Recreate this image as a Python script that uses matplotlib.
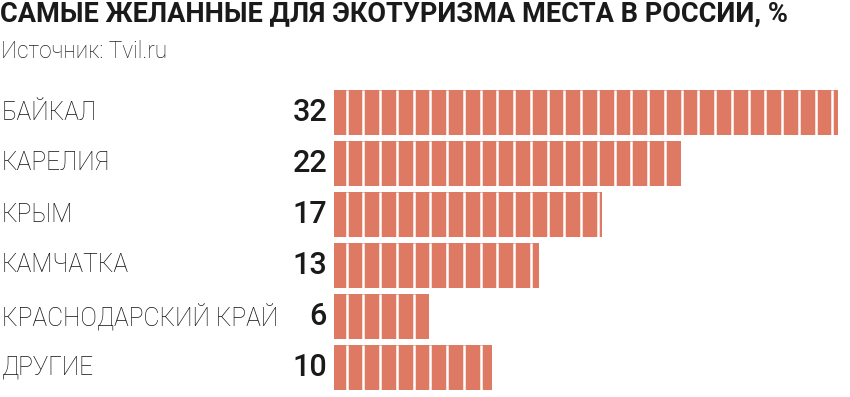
import matplotlib
matplotlib.use("Agg")
import matplotlib.pyplot as plt
import numpy as np

title = "САМЫЕ ЖЕЛАННЫЕ ДЛЯ ЭКОТУРИЗМА МЕСТА В РОССИИ, %"
source = "Источник: Tvil.ru"
categories = ["БАЙКАЛ", "КАРЕЛИЯ", "КРЫМ", "КАМЧАТКА", "КРАСНОДАРСКИЙ КРАЙ", "ДРУГИЕ"]
values = [32, 22, 17, 13, 6, 10]

W, H = 850, 397
fig = plt.figure(figsize=(W / 100, H / 100), dpi=100)
fig.patch.set_facecolor("white")

bar_color = "#DE7A64"
unit_px = 15.75
x0_px = 334
top_px, pitch_px = 87, 51
n = len(categories)

ax = fig.add_axes([x0_px / W, (H - top_px - n * pitch_px) / H, (W - x0_px) / W, n * pitch_px / H])
ax.set_xlim(0, (W - x0_px) / unit_px)
ax.set_ylim(n - 0.5, -0.5)
ax.axis("off")

y = np.arange(n)
ax.barh(y, values, height=45 / pitch_px, color=bar_color, left=0)

# white separators at fixed pixel spacing
sep_first = (346.7 - x0_px) / unit_px
sep_step = 16.75 / unit_px
for yi, v in zip(y, values):
    xs = np.arange(sep_first, v, sep_step)
    ax.vlines(xs, yi - 0.45, yi + 0.45, colors="white", linewidth=1.8)

for yi, cat, v in zip(y, categories, values):
    yc = (top_px + (yi + 0.5) * pitch_px)
    fig.text(2 / W, 1 - yc / H, cat, fontsize=17.7, family="Roboto", fontweight="light",
             color="#111111", va="center", ha="left")
    fig.text(327 / W, 1 - yc / H, str(v), fontsize=22, family="Roboto", fontweight="medium",
             color="#1a1a1a", va="center", ha="right")

fig.text(0 / W, 1 - 14 / H, title, fontsize=19.55, family="Roboto", fontweight="bold",
         color="#1a1a1a", va="center", ha="left")
fig.text(1 / W, 1 - 51 / H, source, fontsize=16.3, family="Roboto", fontweight="light",
         color="#222222", va="center", ha="left")

fig.savefig("out.png", dpi=100)
